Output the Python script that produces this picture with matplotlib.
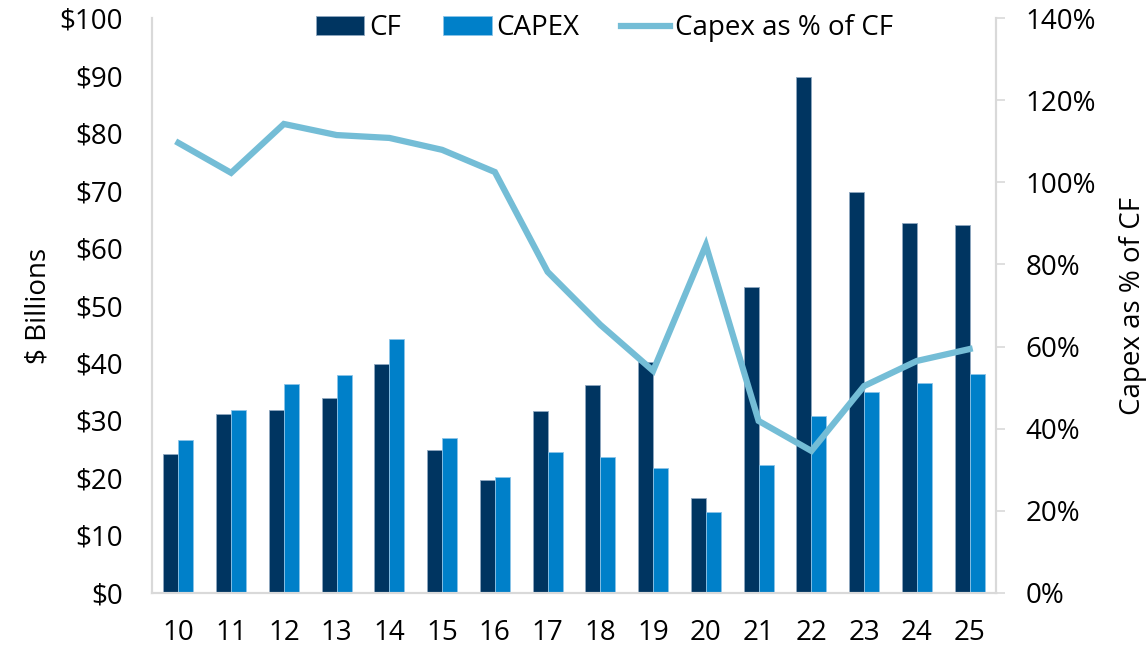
import matplotlib.pyplot as plt
import numpy as np
from matplotlib.ticker import FuncFormatter

plt.rcParams["font.family"] = ["Open Sans", "DejaVu Sans"]

years = ["10", "11", "12", "13", "14", "15", "16", "17",
         "18", "19", "20", "21", "22", "23", "24", "25"]
cf = [24.2, 31.1, 31.8, 33.9, 39.8, 24.9, 19.7, 31.6,
      36.2, 40.2, 16.5, 53.3, 89.7, 69.7, 64.4, 64.0]
capex = [26.6, 31.8, 36.4, 37.9, 44.2, 26.9, 20.2, 24.6,
         23.6, 21.8, 14.0, 22.3, 30.8, 34.9, 36.5, 38.0]
capex_pct = [109.6, 102.3, 114.2, 111.5, 110.8, 107.9, 102.5, 78.2,
             65.3, 54.1, 84.7, 41.9, 34.6, 50.4, 56.5, 59.4]

CF_COLOR = "#003561"
CAPEX_COLOR = "#0080C9"
LINE_COLOR = "#74BDD6"
SPINE_COLOR = "#D9D9D9"
FS = 20


def main():
    fig = plt.figure(figsize=(11.48, 6.5), dpi=100)
    ax = fig.add_axes([0.1324, 0.0877, 0.7352, 0.8846])
    ax2 = ax.twinx()

    x = np.arange(len(years))
    w = 0.285
    b1 = ax.bar(x - w / 2, cf, w, color=CF_COLOR, edgecolor="#8FA8C0",
                linewidth=0.6, label="CF", zorder=2)
    b2 = ax.bar(x + w / 2, capex, w, color=CAPEX_COLOR, edgecolor="#8CC4E8",
                linewidth=0.6, label="CAPEX", zorder=2)

    (ln,) = ax2.plot(x, capex_pct, color=LINE_COLOR, linewidth=4.5,
                     solid_joinstyle="miter", label="Capex as % of CF")

    ax.set_xlim(-0.5, len(years) - 0.5)
    ax.set_ylim(0, 100)
    ax.set_yticks(range(0, 101, 10))
    ax.yaxis.set_major_formatter(FuncFormatter(lambda v, p: f"${v:.0f}"))
    ax.set_xticks(x)
    ax.set_xticklabels(years)
    ax.tick_params(axis="y", length=0, pad=21, labelsize=FS)
    ax.tick_params(axis="x", length=0, pad=19, labelsize=FS)
    ax.set_ylabel("$ Billions", fontsize=FS, labelpad=5)

    ax2.set_ylim(0, 140)
    ax2.set_yticks(range(0, 141, 20))
    ax2.yaxis.set_major_formatter(FuncFormatter(lambda v, p: f"{v:.0f}%"))
    ax2.tick_params(axis="y", length=6.5, width=1.2, color=SPINE_COLOR,
                    pad=15, labelsize=FS)
    ax2.set_ylabel("Capex as % of CF", fontsize=FS, labelpad=16)

    for a in (ax, ax2):
        a.spines["top"].set_visible(False)
        for s in ("left", "right", "bottom"):
            a.spines[s].set_color(SPINE_COLOR)
            a.spines[s].set_linewidth(1.5)

    ax.legend([b1, b2, ln], ["CF", "CAPEX", "Capex as % of CF"],
              loc="upper center", bbox_to_anchor=(0.536, 1.05), ncol=3,
              frameon=False, fontsize=FS, handlelength=1.75,
              handletextpad=0.18, columnspacing=1.5)

    fig.savefig("out.png", dpi=100)


if __name__ == "__main__":
    main()
